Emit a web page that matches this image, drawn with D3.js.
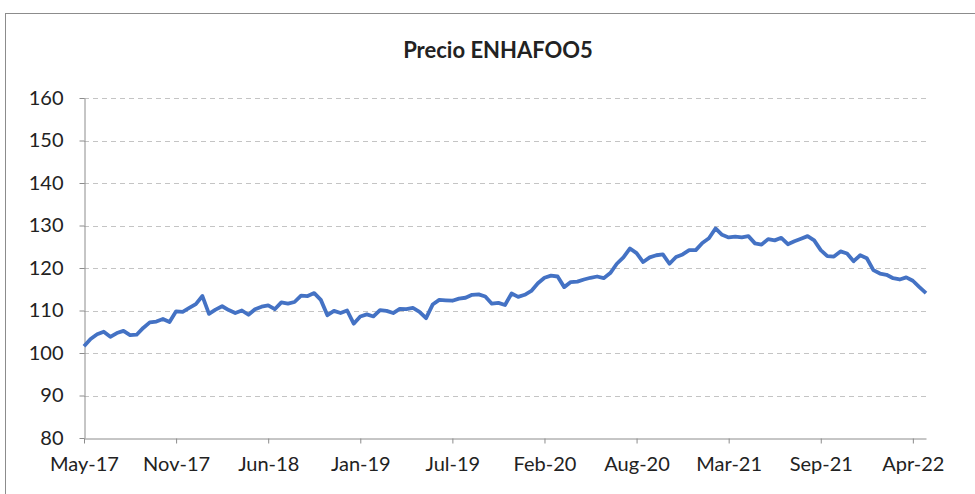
<!DOCTYPE html>
<html>
<head>
<meta charset="utf-8">
<script src="https://cdn.jsdelivr.net/npm/d3@7"></script>
<style>
  body { margin: 0; background: #fff; }
  text { font-family: Lato, "Open Sans", sans-serif; fill: #222; }
</style>
</head>
<body>
<script>
// price series, one point every ~2 weeks (category axis)
var values = [
  101.6, 103.3, 104.4, 105.0, 103.8, 104.7, 105.2, 104.2, 104.3, 105.9,
  107.2, 107.4, 108.0, 107.3, 109.8, 109.7, 110.6, 111.5, 113.4, 109.2,
  110.2, 111.0, 110.1, 109.4, 110.0, 109.0, 110.3, 110.9, 111.2, 110.3,
  111.9, 111.6, 112.0, 113.5, 113.4, 114.1, 112.5, 108.9, 109.9, 109.4,
  110.0, 106.9, 108.6, 109.1, 108.6, 110.1, 109.9, 109.4, 110.4, 110.3,
  110.6, 109.7, 108.2, 111.4, 112.5, 112.4, 112.3, 112.8, 113.0, 113.7,
  113.8, 113.3, 111.6, 111.8, 111.3, 114.0, 113.2, 113.7, 114.6, 116.4,
  117.7, 118.2, 118.0, 115.5, 116.7, 116.8, 117.3, 117.7, 118.0, 117.6,
  118.8, 121.0, 122.5, 124.6, 123.5, 121.4, 122.5, 123.0, 123.2, 121.0,
  122.6, 123.2, 124.2, 124.2, 125.9, 127.0, 129.3, 127.8, 127.2, 127.4,
  127.2, 127.5, 125.8, 125.5, 126.8, 126.5, 127.1, 125.6, 126.3, 126.9,
  127.5, 126.5, 124.2, 122.8, 122.7, 123.9, 123.4, 121.6, 123.0, 122.3,
  119.5, 118.7, 118.4, 117.6, 117.3, 117.8, 117.0, 115.5, 114.1
];

// labels shown every 14 points
var tickLabels = ["May-17", "Nov-17", "Jun-18", "Jan-19", "Jul-19",
                  "Feb-20", "Aug-20", "Mar-21", "Sep-21", "Apr-22"];
var tickStep = 14;
var yTicks = [80, 90, 100, 110, 120, 130, 140, 150, 160];

var width = 975, height = 494;
var plotLeft = 84, plotRight = 926, plotTop = 98, plotBottom = 438;

var svg = d3.select("body")
  .append("svg")
  .attr("width", width)
  .attr("height", height);

// chart frame
svg.append("rect")
  .attr("x", 5.5).attr("y", 13.5)
  .attr("width", 990).attr("height", 500)
  .attr("fill", "#fff")
  .attr("stroke", "#8c8c8c");

var x = d3.scaleLinear()
  .domain([0, values.length - 1])
  .range([plotLeft, plotRight]);

var y = d3.scaleLinear()
  .domain([80, 160])
  .range([plotBottom, plotTop]);

// gridlines
svg.append("g")
  .selectAll("line")
  .data(yTicks.slice(1))
  .enter().append("line")
  .attr("x1", plotLeft).attr("x2", plotRight)
  .attr("y1", function(d) { return Math.round(y(d)) + 0.5; })
  .attr("y2", function(d) { return Math.round(y(d)) + 0.5; })
  .attr("stroke", "#c4c4c4")
  .attr("stroke-dasharray", "5,4");

// y axis
var yAxis = svg.append("g")
  .attr("transform", "translate(" + (plotLeft + 0.5) + ",0)")
  .call(d3.axisLeft(y).tickValues(yTicks).tickSize(5).tickPadding(16).tickSizeOuter(0));
yAxis.select(".domain").attr("stroke", "#8c8c8c");
yAxis.selectAll(".tick line").attr("stroke", "#8c8c8c");
yAxis.selectAll("text")
  .style("font-size", "20px")
  .attr("fill", "#222");

// x axis
var tickIdx = tickLabels.map(function(d, i) { return i * tickStep; });
var xAxis = svg.append("g")
  .attr("transform", "translate(0," + (plotBottom + 0.5) + ")")
  .call(d3.axisBottom(x)
    .tickValues(tickIdx)
    .tickSize(5)
    .tickSizeOuter(0)
    .tickPadding(13)
    .tickFormat(function(d, i) { return tickLabels[i]; }));
xAxis.select(".domain").attr("stroke", "#8c8c8c");
xAxis.selectAll(".tick line").attr("stroke", "#8c8c8c");
xAxis.selectAll("text")
  .style("font-size", "20px")
  .attr("fill", "#222");

// price line
var line = d3.line()
  .x(function(d, i) { return x(i); })
  .y(function(d) { return y(d); });

svg.append("path")
  .datum(values)
  .attr("d", line)
  .attr("fill", "none")
  .attr("stroke", "#4472C4")
  .attr("stroke-width", 3.8)
  .attr("stroke-linejoin", "round");

// title
svg.append("text")
  .attr("x", 498)
  .attr("y", 58)
  .attr("text-anchor", "middle")
  .style("font-size", "22px")
  .style("font-weight", "bold")
  .text("Precio ENHAFOO5");
</script>
</body>
</html>
